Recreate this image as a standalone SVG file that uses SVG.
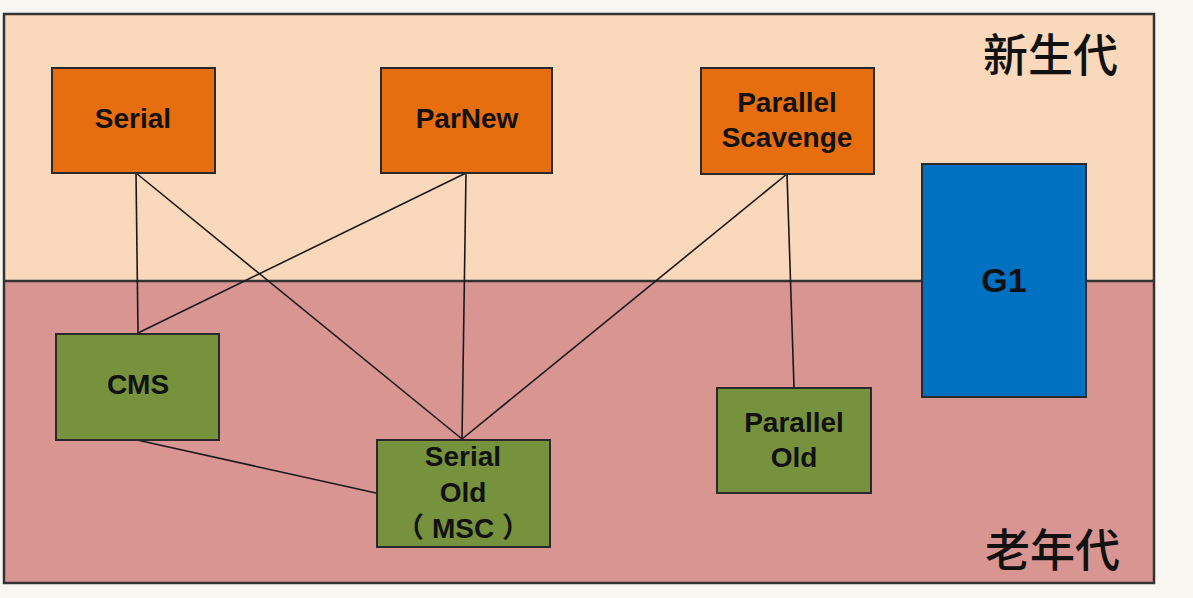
<svg xmlns="http://www.w3.org/2000/svg" width="1193" height="598" viewBox="0 0 1193 598">
<style>
.t{font-family:"Liberation Sans","Noto Sans CJK SC",sans-serif;font-weight:bold;font-size:28px;fill:#111;text-anchor:middle}
.cj{font-family:"Noto Sans CJK SC",sans-serif;font-weight:500;font-size:45px;fill:#111;text-anchor:end}
.box{stroke:#2a2a2a;stroke-width:2}
.or{fill:#e76e0e}
.gr{fill:#76923c}
.ln{stroke:#1a1a1a;stroke-width:1.6;fill:none}
</style>
<rect x="0" y="0" width="1193" height="598" fill="#f8f6f0"/>
<g id="young">
<rect x="4" y="14" width="1150" height="267" fill="#fad8bc"/>
<text class="cj" x="1118" y="72">新生代</text>
</g>
<g id="old">
<rect x="4" y="281" width="1150" height="302" fill="#d99592"/>
<text class="cj" x="1120" y="567">老年代</text>
</g>
<rect x="4" y="14" width="1150" height="569" fill="none" stroke="#333" stroke-width="2.5"/>
<line x1="4" y1="281" x2="1154" y2="281" stroke="#333" stroke-width="2.5"/>
<g id="connectors" class="ln">
<line x1="136" y1="173" x2="138" y2="333"/>
<line x1="136" y1="173" x2="462" y2="439"/>
<line x1="466" y1="173" x2="138" y2="333"/>
<line x1="466" y1="173" x2="462" y2="439"/>
<line x1="787" y1="174" x2="462" y2="439"/>
<line x1="787" y1="174" x2="794" y2="387"/>
<line x1="137" y1="440" x2="376" y2="493"/>
</g>
<g id="serial">
<rect class="box or" x="52" y="68" width="163" height="105"/>
<text class="t" x="133" y="128">Serial</text>
</g>
<g id="parnew">
<rect class="box or" x="381" y="68" width="171" height="105"/>
<text class="t" x="467" y="128">ParNew</text>
</g>
<g id="parallel-scavenge">
<rect class="box or" x="701" y="68" width="173" height="106"/>
<text class="t" x="787" y="112">Parallel</text>
<text class="t" x="787" y="147">Scavenge</text>
</g>
<g id="g1">
<rect class="box" fill="#0070c0" x="922" y="164" width="164" height="233"/>
<text class="t" x="1004" y="292" style="font-size:34px">G1</text>
</g>
<g id="cms">
<rect class="box gr" x="56" y="334" width="163" height="106"/>
<text class="t" x="138" y="394">CMS</text>
</g>
<g id="serial-old">
<rect class="box gr" x="377" y="440" width="173" height="107"/>
<text class="t" x="463" y="466">Serial</text>
<text class="t" x="463" y="502">Old</text>
<text class="t" x="463" y="538">（ MSC ）</text>
</g>
<g id="parallel-old">
<rect class="box gr" x="717" y="388" width="154" height="105"/>
<text class="t" x="794" y="432">Parallel</text>
<text class="t" x="794" y="467">Old</text>
</g>
</svg>
